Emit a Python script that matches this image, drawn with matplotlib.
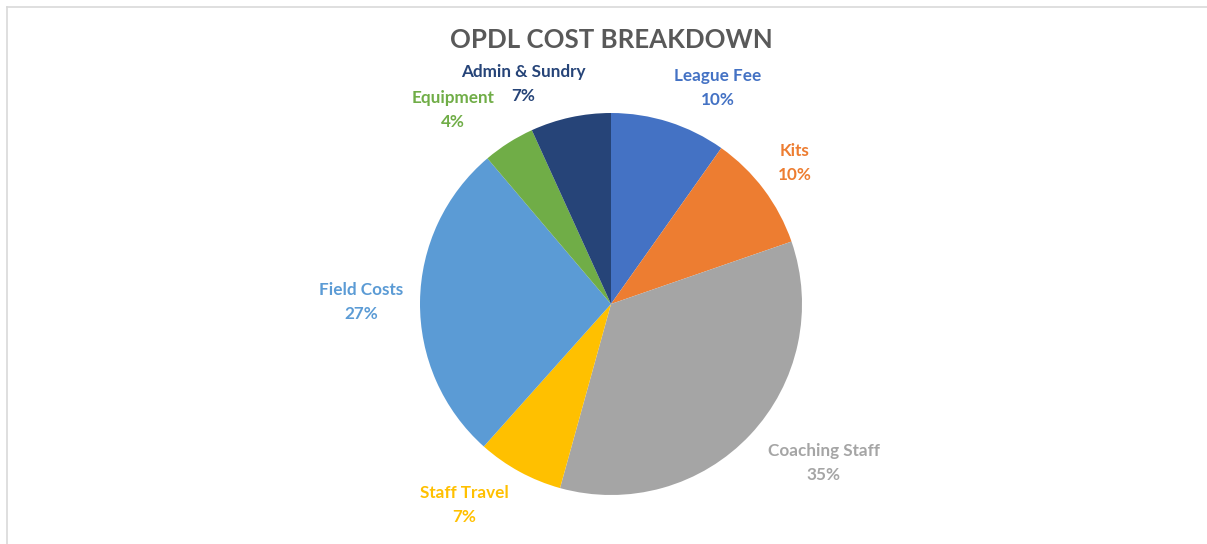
import matplotlib
matplotlib.use("Agg")
import matplotlib.pyplot as plt
from matplotlib.lines import Line2D

plt.rcParams['font.family'] = ['Lato', 'DejaVu Sans']

# data
categories = ['League Fee', 'Kits', 'Coaching Staff', 'Staff Travel',
              'Field Costs', 'Equipment', 'Admin & Sundry']
values = [9.8, 9.9, 34.6, 7.3, 27.2, 4.4, 6.8]
colors = ['#4472C4', '#ED7D31', '#A5A5A5', '#FFC000',
          '#5B9BD5', '#70AD47', '#264478']

# label positions, in pie-radius units from the centre
label_pos = [(0.56, 1.13), (0.963, 0.738), (1.115, -0.832), (-0.77, -1.052),
             (-1.309, 0.01), (-0.827, 1.016), (-0.461, 1.152)]

W, H = 1207, 544
fig = plt.figure(figsize=(W / 100, H / 100), dpi=100)
ax = fig.add_axes([0, 0, 1, 1])

cx, cy, R = 611, 304, 191  # pixel centre and radius
ax.pie(values, colors=colors, startangle=90, counterclock=False,
       radius=1, center=(0, 0), wedgeprops=dict(linewidth=0))
ax.set_xlim(-cx / R, (W - cx) / R)
ax.set_ylim(-(H - cy) / R, cy / R)
ax.set_aspect('auto')
ax.axis('off')

total = sum(values)
half = 12 / R  # half the line gap, in radius units
for name, v, c, (lx, ly) in zip(categories, values, colors, label_pos):
    ax.text(lx, ly + half, name, color=c, ha='center', va='center',
            fontsize=12.3, fontweight='bold')
    ax.text(lx, ly - half, f"{round(v / total * 100)}%", color=c,
            ha='center', va='center', fontsize=12.3, fontweight='bold')

fig.text(611 / W, 1 - 40 / H, 'OPDL COST BREAKDOWN', ha='center', va='center',
         fontsize=18.6, fontweight='bold', color='#595959')

# chart frame (only left and top edges are visible)
fig.add_artist(Line2D([6.5 / W, 6.5 / W], [0, 1 - 6.5 / H],
                      transform=fig.transFigure, color='#D9D9D9', lw=1.2))
fig.add_artist(Line2D([6.5 / W, 1], [1 - 6.5 / H, 1 - 6.5 / H],
                      transform=fig.transFigure, color='#D9D9D9', lw=1.2))

fig.savefig('out.png', dpi=100, facecolor='white')
